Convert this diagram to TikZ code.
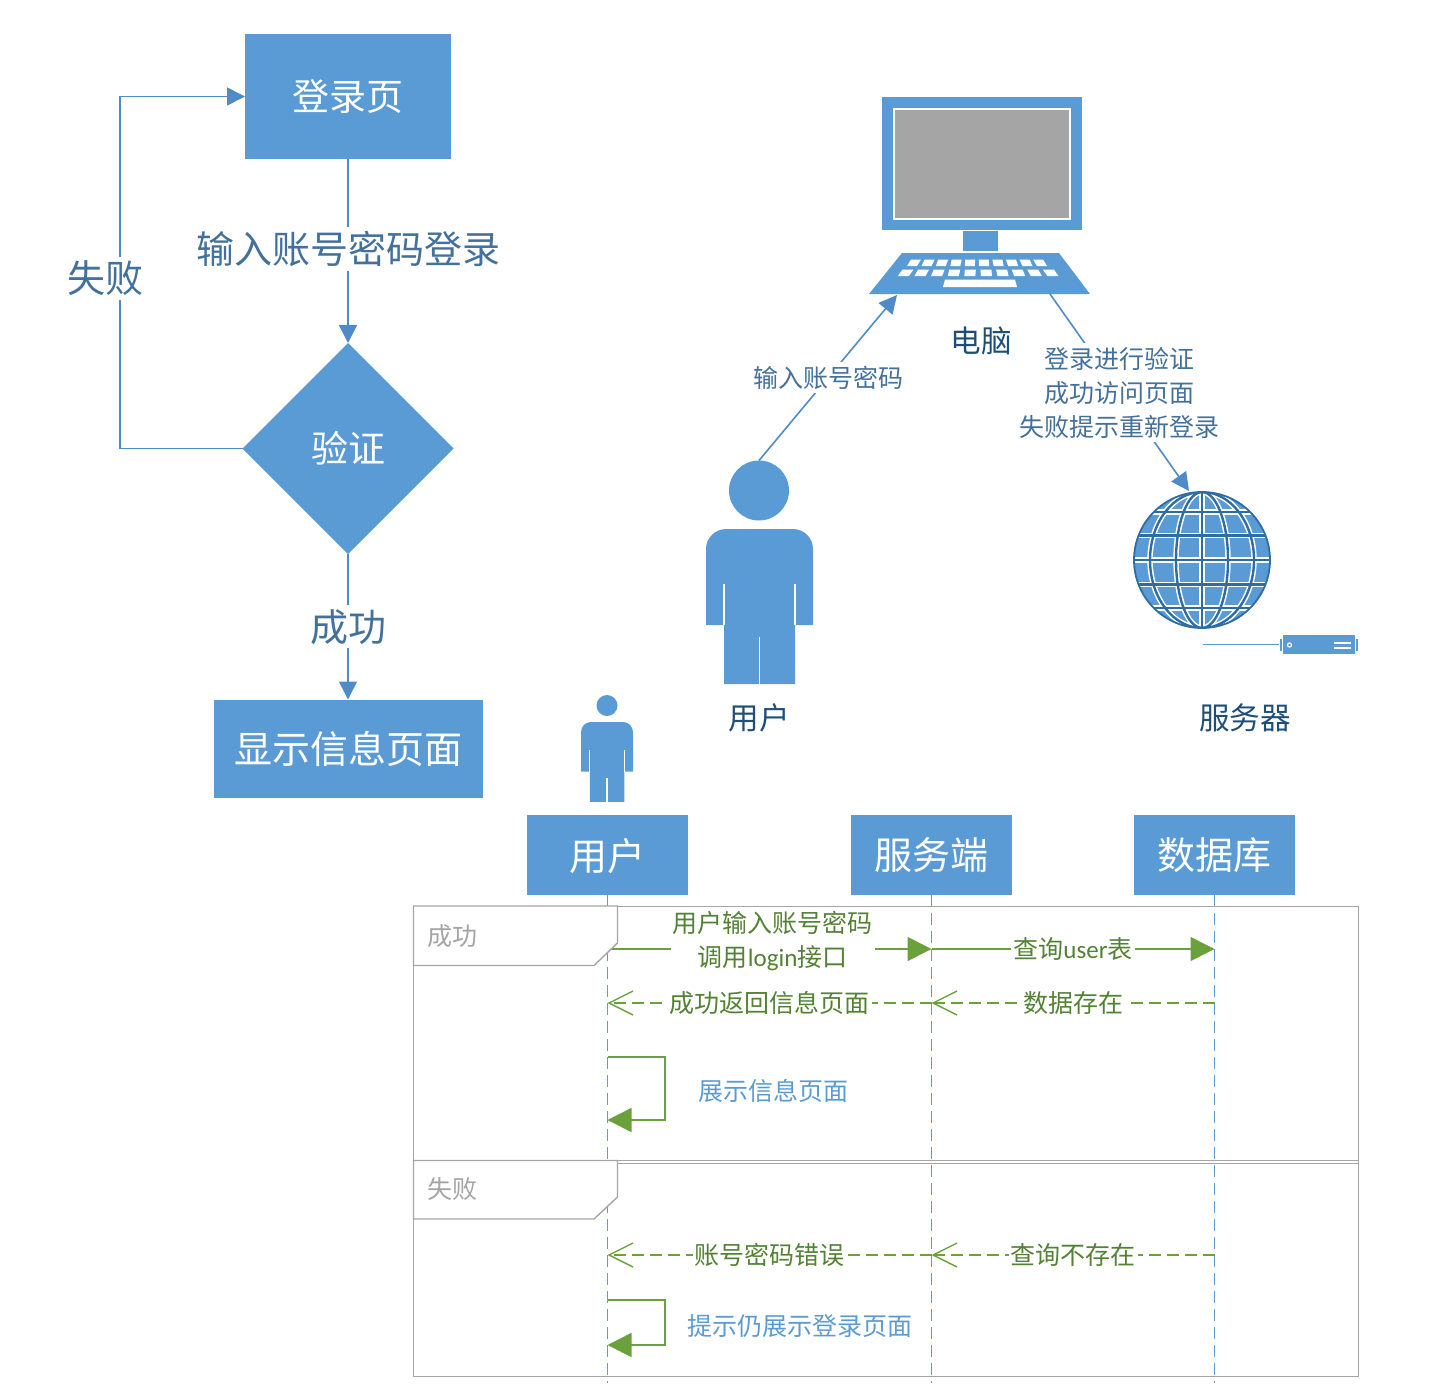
\documentclass[tikz,border=0pt]{standalone}
\usepackage{fontspec}
\setmainfont{Noto Sans CJK SC}
\newfontfamily\latinpart{Carlito}
\usetikzlibrary{shapes.geometric, arrows.meta}
\definecolor{boxblue}{HTML}{5B9BD5}
\definecolor{linkblue}{HTML}{4E8BC8}
\definecolor{textblue}{HTML}{44719C}
\definecolor{darkblue}{HTML}{1F4E79}
\definecolor{globeblue}{HTML}{2E6DA4}
\definecolor{msggreen}{HTML}{6AA13C}
\definecolor{textgreen}{HTML}{548235}
\definecolor{framegray}{HTML}{A5A5A5}
\tikzstyle{bluebox} = [rectangle, fill=boxblue, text=white, outer sep=0pt,
inner sep=0pt, text centered]
\tikzstyle{decision} = [diamond, aspect=1, fill=boxblue, text=white, 
outer sep=0pt, inner sep=0pt, minimum width=105.5pt, minimum height=105.5pt]
\tikzstyle{headbox} = [bluebox, minimum width=80.5pt, minimum height=40pt, 
font=\fontsize{19}{23}\selectfont]
\tikzstyle{arrow} = [draw=linkblue, line width=0.8pt, 
-{Triangle[length=9pt,width=9pt]}]
\tikzstyle{linktext} = [fill=white, text=textblue, inner sep=2pt, 
font=\fontsize{19}{23}\selectfont]
\tikzstyle{smalltext} = [fill=white, text=textblue, inner sep=2pt, 
align=center, font=\fontsize{12.5}{17}\selectfont]
\tikzstyle{figtext} = [text=darkblue, font=\fontsize{15.3}{18}\selectfont]
\tikzstyle{msg} = [draw=msggreen, line width=0.8pt, 
-{Triangle[length=12pt,width=12pt]}]
\tikzstyle{backmsg} = [draw=msggreen, line width=0.7pt, 
dash pattern=on 6pt off 3pt, -{Straight Barb[length=12pt,width=12pt]}]
\tikzstyle{msgtext} = [fill=white, text=textgreen, inner sep=1pt, 
align=center, font=\fontsize{12.5}{17}\selectfont]
\tikzstyle{selftext} = [text=boxblue, font=\fontsize{12.5}{17}\selectfont]
\tikzstyle{lifeline} = [draw=boxblue, line width=0.8pt, 
dash pattern=on 6pt off 3pt]
\tikzstyle{frametag} = [draw=framegray, line width=0.7pt, fill=white]
\tikzstyle{frametext} = [text=framegray, font=\fontsize{12.5}{15}\selectfont]
\tikzset{personbody/.pic={
  \fill [boxblue] (-53.5,20) arc (180:270:20) -- (33.5,0) arc (270:360:20) 
  -- (53.5,96) -- (35.5,96) -- (35.5,155) -- (-35.5,155) -- (-35.5,96) 
  -- (-53.5,96) -- cycle;
  \draw [white, line width=0.6pt] (-35.5,55) -- (-35.5,96) 
  (35.5,55) -- (35.5,96) (0,108) -- (0,155);
}}
\begin{document}
\begin{tikzpicture}[x=0.5pt, y=-0.5pt, node distance=176pt, align=center]
\useasboundingbox (0,0) rectangle (1435,1386);

\node (login) [bluebox, minimum width=103pt, minimum height=62.5pt, 
font=\fontsize{18.5}{22}\selectfont] at (348,96.5) {登录页};

\node (check) [decision, below of=login, 
font=\fontsize{18.5}{22}\selectfont] {验证};

\node (show) [bluebox, below of=check, yshift=26pt, minimum width=134.5pt, 
minimum height=49pt, font=\fontsize{19}{23}\selectfont] {显示信息页面};

\draw [arrow] (login) -- node[linktext, pos=.49] {输入账号密码登录} (check);
\draw [arrow] (check) -- node[linktext, pos=.5] {成功} (show);
\draw [arrow] (check.west) -- ++(-122.5,0) |- 
node[linktext, pos=.2415, xshift=-7pt] {失败} (login.west);

\fill [boxblue] (882,97) rectangle (1082,230);
\draw [white, fill=framegray, line width=0.6pt] (894,109) rectangle (1070,219);
\fill [boxblue] (963,231) rectangle (998,251);
\fill [boxblue] (902,253) -- (1059,253) -- (1090,294) -- (869,294) -- cycle;
\foreach \i in {0,...,9} {
  \pgfmathsetmacro{\ka}{914+14*\i}
  \pgfmathsetmacro{\kb}{(\ka-978)*0.032}
  \fill [white] (\ka-5-\kb,259.5) -- (\ka+5-\kb,259.5) -- (\ka+5+\kb,266) 
  -- (\ka-5+\kb,266) -- cycle;
  \pgfmathsetmacro{\kc}{905.7+16.1*\i}
  \pgfmathsetmacro{\kd}{(\kc-978)*0.032}
  \fill [white] (\kc-5.5-\kd,269.5) -- (\kc+5.5-\kd,269.5) -- (\kc+5.5+\kd,276) 
  -- (\kc-5.5+\kd,276) -- cycle;
}
\fill [white] (945,279.5) -- (1015,279.5) -- (1017,287) -- (943,287) -- cycle;
\node (pc) [figtext] at (981,341) {电脑};

\node (userhead) [circle, fill=boxblue, minimum size=30pt, inner sep=0pt, 
outer sep=0pt] at (759,490.5) {};
\pic at (759.5,529) {personbody};
\node (user) [figtext] at (759,718) {用户};

\node (globe) [circle, fill=boxblue, minimum size=68pt, inner sep=0pt, 
outer sep=0pt] at (1202,560) {};
\begin{scope}
\clip (1202,560) circle (68);
\foreach \w/\c in {2.7pt/white, 1.2pt/globeblue} {
  \foreach \dy in {-48,-24.5,0,24.5,48} {
    \draw [\c, line width=\w] (1130,560+\dy) -- (1274,560+\dy);
  }
  \draw [\c, line width=\w] (1202,490) -- (1202,630);
  \foreach \rx in {26,52} {
    \draw [\c, line width=\w] (1202,560) ellipse [x radius=\rx, y radius=68];
  }
}
\end{scope}
\draw [globeblue, line width=0.9pt] (1202,560) circle (68);

\node (srvbox) [bluebox, minimum width=36pt, minimum height=9.5pt] 
at (1319,644.5) {};
\draw [white, line width=0.6pt] (1289.5,645) circle (2);
\draw [white, line width=0.6pt] (1334,643) -- (1351,643) (1334,648) -- (1351,648);
\draw [boxblue, line width=0.6pt] (1281,638.5) -- (1281,651) 
(1357,638.5) -- (1357,651);
\coordinate (srvline) at (1203,644.5);
\draw [boxblue, line width=0.8pt, shorten >=2pt] (srvline) -- (srvbox.west);
\node (srv) [figtext] at (1245,718) {服务器};

\coordinate (pcin) at (897,295);
\coordinate (pcout) at (1050,294);
\coordinate (srvin) at (1189,491);
\draw [arrow] (userhead.north) -- node[smalltext] {输入账号密码} (pcin);
\draw [arrow] (pcout) -- node[smalltext] {登录进行验证 \\ 成功访问页面 \\ 
失败提示重新登录} (srvin);

\node (actorhead) [circle, fill=boxblue, minimum size=10.5pt, inner sep=0pt, 
outer sep=0pt] at (607,705.5) {};
\pic [xscale=.486, yscale=.516] at (607,722) {personbody};

\node (head1) [headbox, text depth=1pt] at (607.5,855) {用户};
\node (head2) [headbox, text depth=1pt] at (931.5,855) {服务端};
\node (head3) [headbox, text depth=1pt] at (1214.5,855) {数据库};

\coordinate (end1) at (607.5,1383);
\coordinate (end2) at (931.5,1383);
\coordinate (end3) at (1214.5,1383);
\draw [lifeline] (head1.south) -- (end1);
\draw [lifeline] (head2.south) -- (end2);
\draw [lifeline] (head3.south) -- (end3);

\coordinate (a1) at (607.5,949);
\coordinate (a2) at (931.5,949);
\coordinate (a3) at (1214.5,949);
\coordinate (b1) at (607.5,1003);
\coordinate (b2) at (931.5,1003);
\coordinate (b3) at (1214.5,1003);
\coordinate (c1) at (607.5,1057);
\coordinate (c2) at (665,1057);
\coordinate (c3) at (607.5,1120);
\coordinate (d1) at (607.5,1255);
\coordinate (d2) at (931.5,1255);
\coordinate (d3) at (1214.5,1255);
\coordinate (e1) at (607.5,1300);
\coordinate (e2) at (665,1300);
\coordinate (e3) at (607.5,1345);

\draw [msg] (a1) -- node[msgtext, pos=.51, yshift=4pt] 
{用户输入账号密码 \\ 调用{\latinpart login}接口} (a2);
\draw [msg] (a2) -- node[msgtext] {查询{\latinpart user}表} (a3);
\draw [backmsg] (b2) -- node[msgtext] {成功返回信息页面} (b1);
\draw [backmsg] (b3) -- node[msgtext] {数据存在} (b2);
\draw [msg] (c1) -- (c2) |- (c3);
\draw [backmsg] (d2) -- node[msgtext] {账号密码错误} (d1);
\draw [backmsg] (d3) -- node[msgtext] {查询不存在} (d2);
\draw [msg] (e1) -- (e2) |- (e3);
\node (showtext) [selftext] at (773,1091) {展示信息页面};
\node (hinttext) [selftext] at (800,1326) {提示仍展示登录页面};

\draw [draw=framegray, line width=0.5pt] (413.5,906) rectangle (1358,1163.5);
\draw [draw=framegray, line width=0.5pt] (413.5,1160.5) rectangle (1358,1376);
\draw [frametag] (413.5,906) -- (617.5,906) -- (617.5,943) -- (594,965.5) 
-- (413.5,965.5) -- cycle;
\draw [frametag] (413.5,1160.5) -- (617.5,1160.5) -- (617.5,1197) -- (594,1219) 
-- (413.5,1219) -- cycle;
\node (okflag) [frametext] at (452,936) {成功};
\node (failflag) [frametext] at (452,1189) {失败};

\end{tikzpicture}
\end{document}
